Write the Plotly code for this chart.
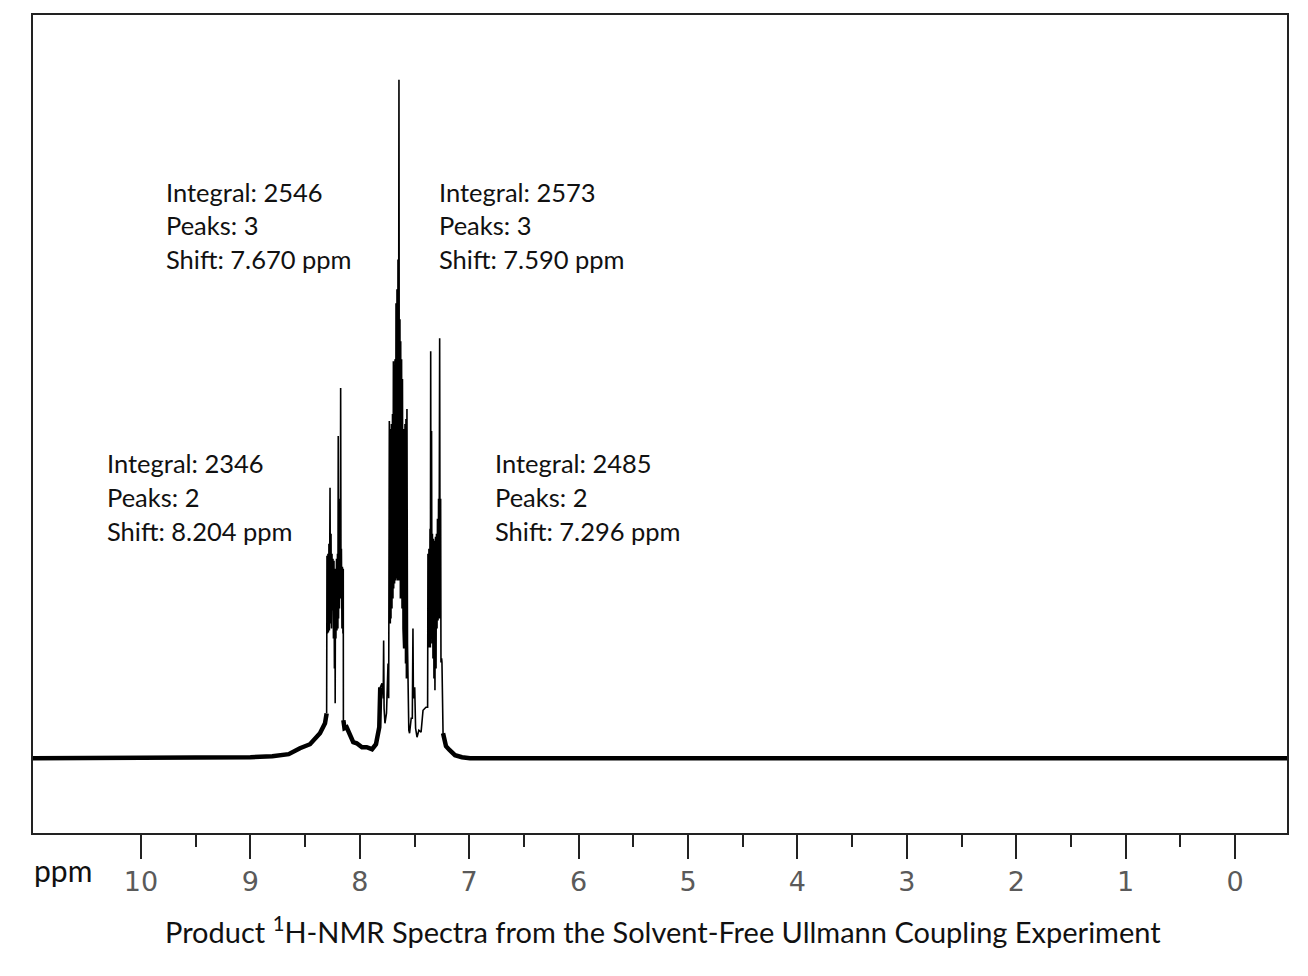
import plotly.graph_objects as go

# ---- data (ppm, intensity above baseline) ----
spec_ppm = [8.303, 8.300, 8.296, 8.291, 8.287, 8.282, 8.278, 8.272, 8.268, 8.263, 8.259,
            8.254, 8.250, 8.245, 8.241, 8.236, 8.232, 8.227, 8.225, 8.222, 8.218, 8.213,
            8.209, 8.204, 8.200, 8.197, 8.194, 8.190, 8.186, 8.181, 8.178, 8.175, 8.172,
            8.168, 8.163, 8.159, 8.154, 8.151, 8.150, 8.140, 8.120, 8.090, 8.060, 8.028,
            7.980, 7.937, 7.888, 7.852, 7.822,
            7.813, 7.797, 7.786, 7.782, 7.778, 7.770, 7.756, 7.742, 7.736, 7.730, 7.727,
            7.724, 7.721, 7.719, 7.715, 7.711, 7.706, 7.701, 7.697, 7.693, 7.690, 7.687,
            7.682, 7.678, 7.673, 7.669, 7.665, 7.660, 7.656, 7.651, 7.647, 7.642, 7.638,
            7.633, 7.629, 7.626, 7.622, 7.618, 7.614, 7.610, 7.605, 7.601, 7.599, 7.595,
            7.590, 7.587, 7.582, 7.578, 7.574, 7.569, 7.564, 7.559, 7.552, 7.545, 7.530,
            7.520, 7.514, 7.510, 7.498, 7.490, 7.477, 7.460, 7.440, 7.422, 7.395, 7.380,
            7.377, 7.373, 7.368, 7.363, 7.358, 7.355, 7.352, 7.348, 7.344, 7.340, 7.336,
            7.331, 7.327, 7.322, 7.318, 7.313, 7.308, 7.303, 7.299, 7.294, 7.290, 7.285,
            7.280, 7.276, 7.270, 7.266, 7.261, 7.258, 7.252, 7.249, 7.239, 7.230]
spec_int = [45, 203, 125, 205, 126, 215, 128, 271, 135, 225, 130,
            205, 148, 200, 120, 198, 90, 180, 55, 190, 120, 200,
            128, 205, 130, 323, 140, 250, 150, 260, 160, 371, 188,
            210, 130, 192, 125, 190, 38, 30, 31, 22, 16, 15,
            11, 11, 9, 14, 31,
            71, 75, 60, 118, 50, 35, 45, 95, 60, 338, 150,
            331, 135, 330, 140, 335, 150, 345, 160, 398, 170, 380,
            175, 400, 178, 456, 180, 470, 178, 500, 178, 680, 178,
            440, 160, 418, 160, 400, 150, 380, 130, 231, 110, 330,
            110, 335, 95, 340, 80, 350, 115, 71, 28, 25, 40,
            40, 130, 60, 71, 30, 21, 28, 26, 48, 51, 51,
            205, 111, 210, 111, 230, 111, 408, 120, 328, 115, 225,
            100, 220, 80, 218, 68, 222, 90, 225, 130, 240, 138,
            260, 140, 421, 140, 260, 96, 100, 96, 25, 18]

# noisy baseline segments (drawn as a thick band)
base_ppm = [10.987, 9.60, 9.00, 8.80, 8.65, 8.547, 8.455, 8.364, 8.318, 8.303, None,
            8.150, 8.140, 8.120, 8.090, 8.060, 8.028, 7.980, 7.937, 7.888, 7.852, 7.822, 7.813, None,
            7.239, 7.230, 7.212, 7.178, 7.130, 7.066, 6.993, 5.0, 3.0, 1.0, -0.475]
base_int = [0, 0, 1, 2, 4, 10, 14, 25, 35, 45, None,
            38, 30, 31, 22, 16, 15, 11, 11, 9, 14, 31, 71, None,
            25, 18, 12, 8, 3, 1, 0, 0, 0, 0, 0]

major_ticks = list(range(0, 11))
tick_labels = [str(v) for v in major_ticks]
minor_ticks = [v + 0.5 for v in range(0, 10)]

labels = [
    ("Integral: 2546", "Peaks: 3", "Shift: 7.670 ppm"),
    ("Integral: 2573", "Peaks: 3", "Shift: 7.590 ppm"),
    ("Integral: 2346", "Peaks: 2", "Shift: 8.204 ppm"),
    ("Integral: 2485", "Peaks: 2", "Shift: 7.296 ppm"),
]
label_pos = [(164, 190), (437, 190), (105, 462), (493, 462)]  # pixel anchor of first line

title_text = "Product <sup>1</sup>H-NMR Spectra from the Solvent-Free Ullmann Coupling Experiment"

OFF = 8  # page body margin
W, H = 1308 - 2 * OFF, 976 - 2 * OFF
L, R, T, B = 33 - OFF, 1287 - OFF, 13 - OFF, 833 - OFF


def px_to_paper(px, py):
    px -= OFF
    py -= OFF
    return (px - L) / (R - L), (B - py) / (B - T)


fig = go.Figure()
fig.add_trace(go.Scatter(x=base_ppm, y=base_int, mode="lines",
                         line=dict(color="#000000", width=4.5), connectgaps=False,
                         hoverinfo="skip", showlegend=False))
fig.add_trace(go.Scatter(x=spec_ppm, y=spec_int, mode="lines",
                         line=dict(color="#000000", width=1.6),
                         showlegend=False))

ann = []
font_txt = dict(family="Lato, sans-serif", size=25.5, color="#111111")
for (lines, (px, py)) in zip(labels, label_pos):
    for i, t in enumerate(lines):
        xp, yp = px_to_paper(px, py + i * 34)
        ann.append(dict(text=t, x=xp, y=yp, xref="paper", yref="paper",
                        xanchor="left", yanchor="middle", showarrow=False, font=font_txt))

xp, yp = px_to_paper(32, 870)
ann.append(dict(text="ppm", x=xp, y=yp, xref="paper", yref="paper", xanchor="left",
                yanchor="middle", showarrow=False,
                font=dict(family="Lato, sans-serif", size=30, color="#111111")))
xp, yp = px_to_paper(663, 930)
ann.append(dict(text=title_text, x=xp, y=yp, xref="paper", yref="paper", xanchor="center",
                yanchor="middle", showarrow=False,
                font=dict(family="Lato, sans-serif", size=29, color="#111111")))

fig.update_layout(
    width=W, height=H,
    margin=dict(l=L, r=W - R, t=T, b=H - B, pad=0),
    paper_bgcolor="white", plot_bgcolor="white",
    annotations=ann,
    xaxis=dict(range=[10.987, -0.475], showgrid=False, zeroline=False,
               showline=True, mirror=True, linecolor="#222222", linewidth=2,
               ticks="outside", ticklen=24, tickwidth=1.5, tickcolor="#222222",
               tickvals=major_ticks, ticktext=tick_labels,
               tickfont=dict(family="DejaVu Sans", size=27, color="#5a5a5a"),
               minor=dict(tickvals=minor_ticks, ticks="outside", ticklen=12,
                          tickwidth=1.5, tickcolor="#222222", showgrid=False)),
    yaxis=dict(range=[-75, 745], showgrid=False, zeroline=False, showticklabels=False,
               showline=True, mirror=True, linecolor="#222222", linewidth=2, ticks=""),
)

fig.write_html("out.html")
